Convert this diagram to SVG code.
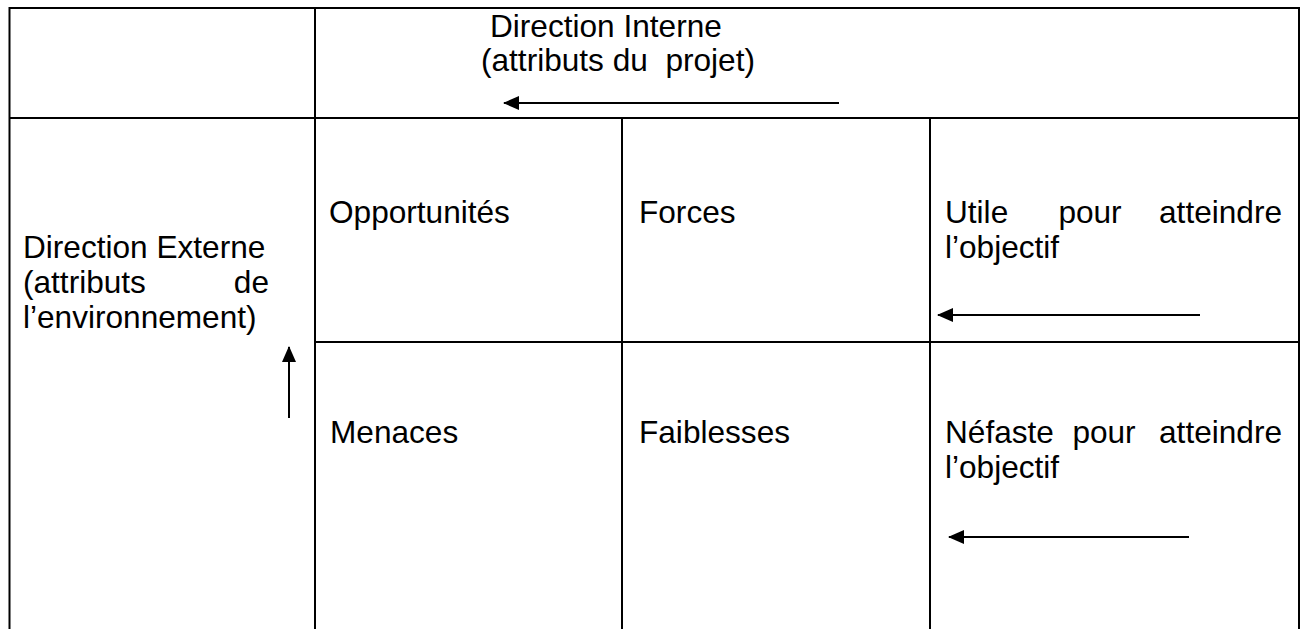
<svg xmlns="http://www.w3.org/2000/svg" width="1303" height="629" viewBox="0 0 1303 629">
<style>
.t{font-family:"Liberation Sans",Arial,Helvetica,sans-serif;font-size:31.6px;fill:#000;white-space:pre}
.g{stroke:#000;stroke-width:2;fill:none}
.a{stroke:#000;stroke-width:2;fill:none}
</style>
<defs>
<marker id="ah" markerUnits="userSpaceOnUse" viewBox="0 0 16 14" refX="15" refY="7" markerWidth="16" markerHeight="14" orient="auto">
<path d="M0,0 L16,7 L0,14 z" fill="#000"/>
</marker>
</defs>
<rect width="1303" height="629" fill="#fff"/>
<g id="grid" class="g">
<line x1="9" y1="8" x2="1300" y2="8"/>
<line x1="9.5" y1="7" x2="9.5" y2="629"/>
<line x1="315" y1="8" x2="315" y2="629"/>
<line x1="9" y1="118" x2="1300" y2="118"/>
<line x1="622" y1="118" x2="622" y2="629"/>
<line x1="930" y1="118" x2="930" y2="629"/>
<line x1="1299" y1="7" x2="1299" y2="629"/>
<line x1="315" y1="342" x2="1300" y2="342"/>
</g>
<g id="header-interne">
<text class="t" x="490" y="37">Direction Interne</text>
<text class="t" x="481" y="71">(attributs du  projet)</text>
</g>
<g id="direction-externe">
<text class="t" x="23" y="258">Direction Externe</text>
<text class="t" x="23" y="293">(attributs</text>
<text class="t" x="269" y="293" text-anchor="end">de</text>
<text class="t" x="23" y="328">l’environnement)</text>
</g>
<g id="opportunites"><text class="t" x="329" y="223">Opportunités</text></g>
<g id="forces"><text class="t" x="639" y="223">Forces</text></g>
<g id="utile">
<text class="t" x="945" y="223">Utile</text>
<text class="t" x="1090" y="223" text-anchor="middle">pour</text>
<text class="t" x="1282" y="223" text-anchor="end">atteindre</text>
<text class="t" x="945" y="258">l’objectif</text>
</g>
<g id="menaces"><text class="t" x="330" y="443">Menaces</text></g>
<g id="faiblesses"><text class="t" x="639" y="443">Faiblesses</text></g>
<g id="nefaste">
<text class="t" x="945" y="443">Néfaste</text>
<text class="t" x="1104" y="443" text-anchor="middle">pour</text>
<text class="t" x="1282" y="443" text-anchor="end">atteindre</text>
<text class="t" x="945" y="478">l’objectif</text>
</g>
<g id="connectors" class="a">
<line x1="839" y1="103" x2="504" y2="103" marker-end="url(#ah)"/>
<line x1="1200" y1="315" x2="938" y2="315" marker-end="url(#ah)"/>
<line x1="1189" y1="537" x2="949" y2="537" marker-end="url(#ah)"/>
<line x1="289" y1="418" x2="289" y2="347" marker-end="url(#ah)"/>
</g>
</svg>
